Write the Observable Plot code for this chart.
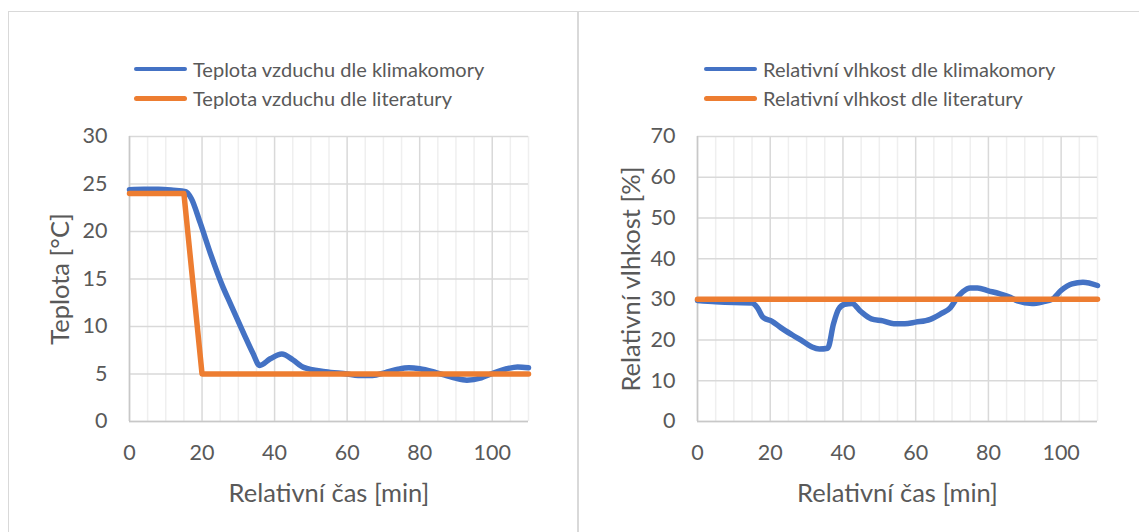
<!DOCTYPE html>
<html>
<head>
<meta charset="utf-8">
<script src="https://cdn.jsdelivr.net/npm/d3@7"></script>
<script src="https://cdn.jsdelivr.net/npm/@observablehq/plot@0.6"></script>
<style>
  html, body { margin: 0; padding: 0; background: #fff; width: 1139px; height: 532px; overflow: hidden; }
  .panel { position: absolute; box-sizing: border-box; border: 1.5px solid #d9d9d9; background: #fff; }
  .chart { position: absolute; }
  .leg { position: absolute; font-family: Lato, sans-serif; font-size: 20px; color: #595959; white-space: nowrap; line-height: 1; }
  .legline { position: absolute; height: 4.5px; border-radius: 3px; }
</style>
</head>
<body>
<div class="panel" style="left:8px; top:11px; width:570px; height:620px;"></div>
<div class="panel" style="left:578px; top:11px; width:620px; height:620px;"></div>
<div id="left" class="chart" style="left:0px; top:120px;"></div>
<div id="right" class="chart" style="left:570px; top:120px;"></div>
<div id="legends"></div>
<script>
// ---- data ----
const timeTicks = [0, 20, 40, 60, 80, 100];
const timeMajorGrid = [0, 20, 40, 60, 80, 100];
const timeMinorGrid = [5, 10, 15, 25, 30, 35, 45, 50, 55, 65, 70, 75, 85, 90, 95, 105, 110];
const tempTicks = [0, 5, 10, 15, 20, 25, 30];
const humTicks = [0, 10, 20, 30, 40, 50, 60, 70];

const tempChamberTime = [0, 4, 8, 12, 15.5, 17, 19.5, 22.3, 25.6, 27.8, 31.5, 34, 35.9, 38.8, 42, 45, 48, 54, 60, 63, 67, 70.5, 74, 77, 80, 84.5, 89.5, 93, 97, 100, 104, 107, 110];
const tempChamber = [24.4, 24.45, 24.45, 24.35, 24.2, 23.5, 20.9, 17.7, 14.3, 12.4, 9.25, 7.2, 5.9, 6.6, 7.1, 6.5, 5.7, 5.25, 5.0, 4.85, 4.85, 5.15, 5.5, 5.65, 5.55, 5.15, 4.6, 4.35, 4.6, 5.05, 5.55, 5.75, 5.65];
const tempLitTime = [0, 15, 20, 110];
const tempLit = [24, 24, 5, 5];

const humChamberTime = [0, 5, 10, 15, 16.5, 18, 20.5, 23, 26, 29, 31.5, 33.5, 35.8, 37.4, 38.8, 40.5, 42.5, 44.8, 47.8, 51, 54, 57, 60, 64, 67, 69.5, 71.5, 73, 75, 77, 80, 83, 86, 88, 92, 95, 97.5, 100, 103, 106, 110];
const humChamber = [29.7, 29.4, 29.2, 29.1, 27.9, 25.6, 24.6, 23.0, 21.3, 19.7, 18.3, 17.8, 18.0, 24.0, 27.6, 28.8, 29.0, 27.1, 25.2, 24.7, 24.0, 24.0, 24.4, 25.1, 26.5, 27.9, 30.5, 31.9, 32.8, 32.8, 32.1, 31.4, 30.5, 29.6, 29.0, 29.4, 30.0, 32.2, 33.8, 34.2, 33.4];
const humLitTime = [0, 110];
const humLit = [30, 30];

const xTitle = "Relativní čas [min]";
const tempTitle = "Teplota [°C]";
const humTitle = "Relativní vlhkost [%]";
const tempNames = ["Teplota vzduchu dle klimakomory", "Teplota vzduchu dle literatury"];
const humNames = ["Relativní vlhkost dle klimakomory", "Relativní vlhkost dle literatury"];

const BLUE = "#4472C4", ORANGE = "#ED7D31", TEXT = "#595959";

function zip(ts, vs) { return ts.map((t, i) => ({t, v: vs[i]})); }

function chart({width, marginLeft, marginRight, yDomain, yTicks, chamber, lit, yTitle, yTitleX}) {
  const height = 412, marginTop = 16, marginBottom = 111;
  return Plot.plot({
    width, height, marginLeft, marginRight, marginTop, marginBottom,
    style: {fontFamily: "Lato, sans-serif", color: TEXT, background: "transparent", overflow: "visible"},
    x: {domain: [0, 110]},
    y: {domain: yDomain},
    marks: [
      Plot.ruleX(timeMinorGrid, {stroke: "#efefef", strokeWidth: 1.5}),
      Plot.ruleX(timeMajorGrid, {stroke: "#d9d9d9", strokeWidth: 1.5}),
      Plot.ruleY(yTicks, {stroke: "#d9d9d9", strokeWidth: 1.5}),
      Plot.ruleX([0], {stroke: "#c8c8c8", strokeWidth: 1.5}),
      Plot.ruleY([0], {stroke: "#c8c8c8", strokeWidth: 1.5}),
      Plot.axisX({ticks: timeTicks, tickSize: 0, tickPadding: 23, fontSize: 21.5, label: null, tickFormat: d => String(d)}),
      Plot.axisY({ticks: yTicks, tickSize: 0, tickPadding: 22, fontSize: 21.5, label: null, tickFormat: d => String(d)}),
      Plot.line(chamber, {x: "t", y: "v", stroke: BLUE, strokeWidth: 5.5, curve: "monotone-x"}),
      Plot.line(lit, {x: "t", y: "v", stroke: ORANGE, strokeWidth: 5.5}),
      Plot.text([xTitle], {text: d => d, frameAnchor: "bottom", dy: 72, fontSize: 25.5, lineAnchor: "middle", textAnchor: "middle", fill: TEXT}),
      Plot.text([yTitle], {text: d => d, frameAnchor: "left", dx: yTitleX - marginLeft, rotate: -90, fontSize: 25.5, lineAnchor: "middle", textAnchor: "middle", fill: TEXT})
    ]
  });
}

document.getElementById("left").appendChild(chart({
  width: 570, marginLeft: 129, marginRight: 42, yDomain: [0, 30], yTicks: tempTicks,
  chamber: zip(tempChamberTime, tempChamber), lit: zip(tempLitTime, tempLit), yTitle: tempTitle, yTitleX: 60
}));
document.getElementById("right").appendChild(chart({
  width: 569, marginLeft: 127, marginRight: 42, yDomain: [0, 70], yTicks: humTicks,
  chamber: zip(humChamberTime, humChamber), lit: zip(humLitTime, humLit), yTitle: humTitle, yTitleX: 61
}));

// legends
const legends = document.getElementById("legends");
function legend(x0, names) {
  [BLUE, ORANGE].forEach((c, i) => {
    const y = 69 + i * 29.5;
    const line = document.createElement("div");
    line.className = "legline";
    line.style.cssText = `left:${x0}px; top:${y - 2.25}px; width:53px; background:${c};`;
    legends.appendChild(line);
    const t = document.createElement("div");
    t.className = "leg";
    t.textContent = names[i];
    t.style.cssText = `left:${x0 + 59}px; top:${y - 10.5}px;`;
    legends.appendChild(t);
  });
}
legend(134, tempNames);
legend(704, humNames);
</script>
</body>
</html>
